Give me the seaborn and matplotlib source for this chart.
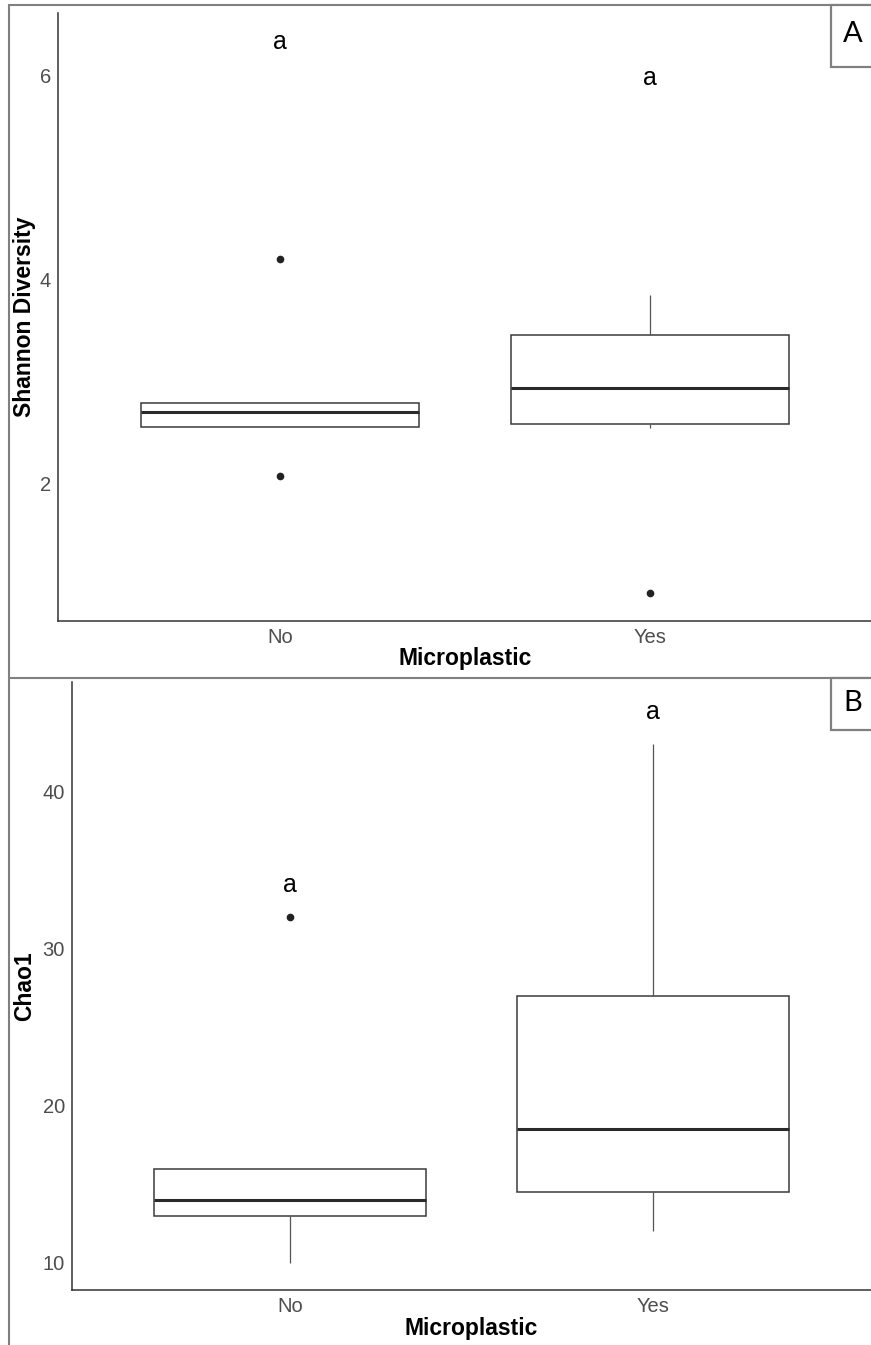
import numpy as np
import pandas as pd
import matplotlib
matplotlib.use("Agg")
import matplotlib.pyplot as plt
import seaborn as sns
from matplotlib.lines import Line2D
from matplotlib.patches import Rectangle

# ---------------- data ----------------
groups = ["No", "Yes"]
shannon_no = [2.07, 2.55, 2.70, 2.79, 4.20]
shannon_yes = [0.92, 2.54, 2.62, 2.93, 3.05, 3.85, 3.85]
chao1_no = [10, 13, 14, 16, 32]
chao1_yes = [12, 14.5, 18.5, 27, 43]
letters = ["a", "a"]
shannon_letter_y = [6.33, 5.98]
chao1_letter_y = [34, 45]
shannon_ticks = [2, 4, 6]
chao1_ticks = [10, 20, 30, 40]

sns.set_style("white")
plt.rcParams["font.family"] = ["Liberation Sans", "DejaVu Sans"]

W, H = 871, 1345
fig = plt.figure(figsize=(W / 100, H / 100), dpi=100)


def axrect(l, t, r, b):
    return [l / W, 1 - b / H, (r - l) / W, (b - t) / H]


def fx(x):
    return x / W


def fy(y):
    return 1 - y / H


def make_df(no_vals, yes_vals):
    return pd.DataFrame({
        "Microplastic": [groups[0]] * len(no_vals) + [groups[1]] * len(yes_vals),
        "value": list(no_vals) + list(yes_vals),
    })


def draw_panel(ax, df, ylabel, ylim, yticks, letter_y, ylab_px, xlab_px, ax_l, ax_t, ax_r, ax_b):
    sns.boxplot(
        data=df, x="Microplastic", y="value", order=groups, ax=ax,
        width=0.75, color="white", linecolor="#3a3a3a", linewidth=1.1,
        showcaps=False, whis=1.5,
        flierprops=dict(marker="o", markerfacecolor="#222222",
                        markeredgecolor="#222222", markersize=4.5),
        medianprops=dict(color="#2a2a2a", linewidth=2.2),
        whiskerprops=dict(color="#555555", linewidth=0.9),
        boxprops=dict(facecolor="white", edgecolor="#3a3a3a", linewidth=1.1),
    )
    for i, (lab, yv) in enumerate(zip(letters, letter_y)):
        ax.text(i, yv, lab, ha="center", va="center", fontsize=18, color="black")
    ax.set_xlim(-0.6, 1.6)
    ax.set_ylim(*ylim)
    ax.set_yticks(yticks)
    ax.set_yticklabels([str(t) for t in yticks])
    for s in ["top", "right"]:
        ax.spines[s].set_visible(False)
    for s in ["left", "bottom"]:
        ax.spines[s].set_color("#333333")
        ax.spines[s].set_linewidth(1.1)
    ax.tick_params(axis="both", length=3, width=0.8, color="#333333",
                   labelsize=14.5, labelcolor="#4D4D4D", pad=2, direction="out")
    ax.set_xlabel("Microplastic", fontsize=16.5, fontweight="bold", color="black")
    ax.set_ylabel(ylabel, fontsize=16.5, fontweight="bold", color="black")
    aw = ax_r - ax_l
    ah = ax_b - ax_t
    ax.xaxis.label.set_va("center")
    ax.yaxis.label.set_va("center")
    ax.xaxis.set_label_coords(0.5, (ax_b - xlab_px) / ah)
    ax.yaxis.set_label_coords((ylab_px - ax_l) / aw, 0.5)
    ax.set_facecolor("none")


# Panel A
axA = fig.add_axes(axrect(58, 12.7, 872, 620.7))
draw_panel(axA, make_df(shannon_no, shannon_yes), "Shannon Diversity",
           (0.647, 6.622), shannon_ticks, shannon_letter_y,
           25, 659, 58, 12.7, 872, 620.7)

# Panel B
axB = fig.add_axes(axrect(72, 682, 871, 1290))
draw_panel(axB, make_df(chao1_no, chao1_yes), "Chao1",
           (8.28, 46.93), chao1_ticks, chao1_letter_y,
           25, 1328, 72, 682, 871, 1290)

# outer frame lines (composite figure)
frame_c = "#808080"
for (x0, y0, x1, y1) in [(9, 5, 871, 5), (9, 5, 9, 1345), (9, 678, 871, 678)]:
    fig.add_artist(Line2D([fx(x0), fx(x1)], [fy(y0), fy(y1)],
                          transform=fig.transFigure, color=frame_c, lw=1.5, zorder=5))

# panel label boxes
for (lab, top, bot, cy) in [("A", 5, 67, 34), ("B", 678, 730, 703)]:
    rect = Rectangle((fx(831), fy(bot)), fx(880) - fx(831), fy(top) - fy(bot),
                     transform=fig.transFigure, facecolor="white",
                     edgecolor=frame_c, lw=1.6, zorder=6)
    fig.add_artist(rect)
    fig.text(fx(853), fy(cy), lab, ha="center", va="center", fontsize=21,
             family=["Lato", "DejaVu Sans"], color="black", zorder=7)

fig.savefig("out.png", dpi=100)
